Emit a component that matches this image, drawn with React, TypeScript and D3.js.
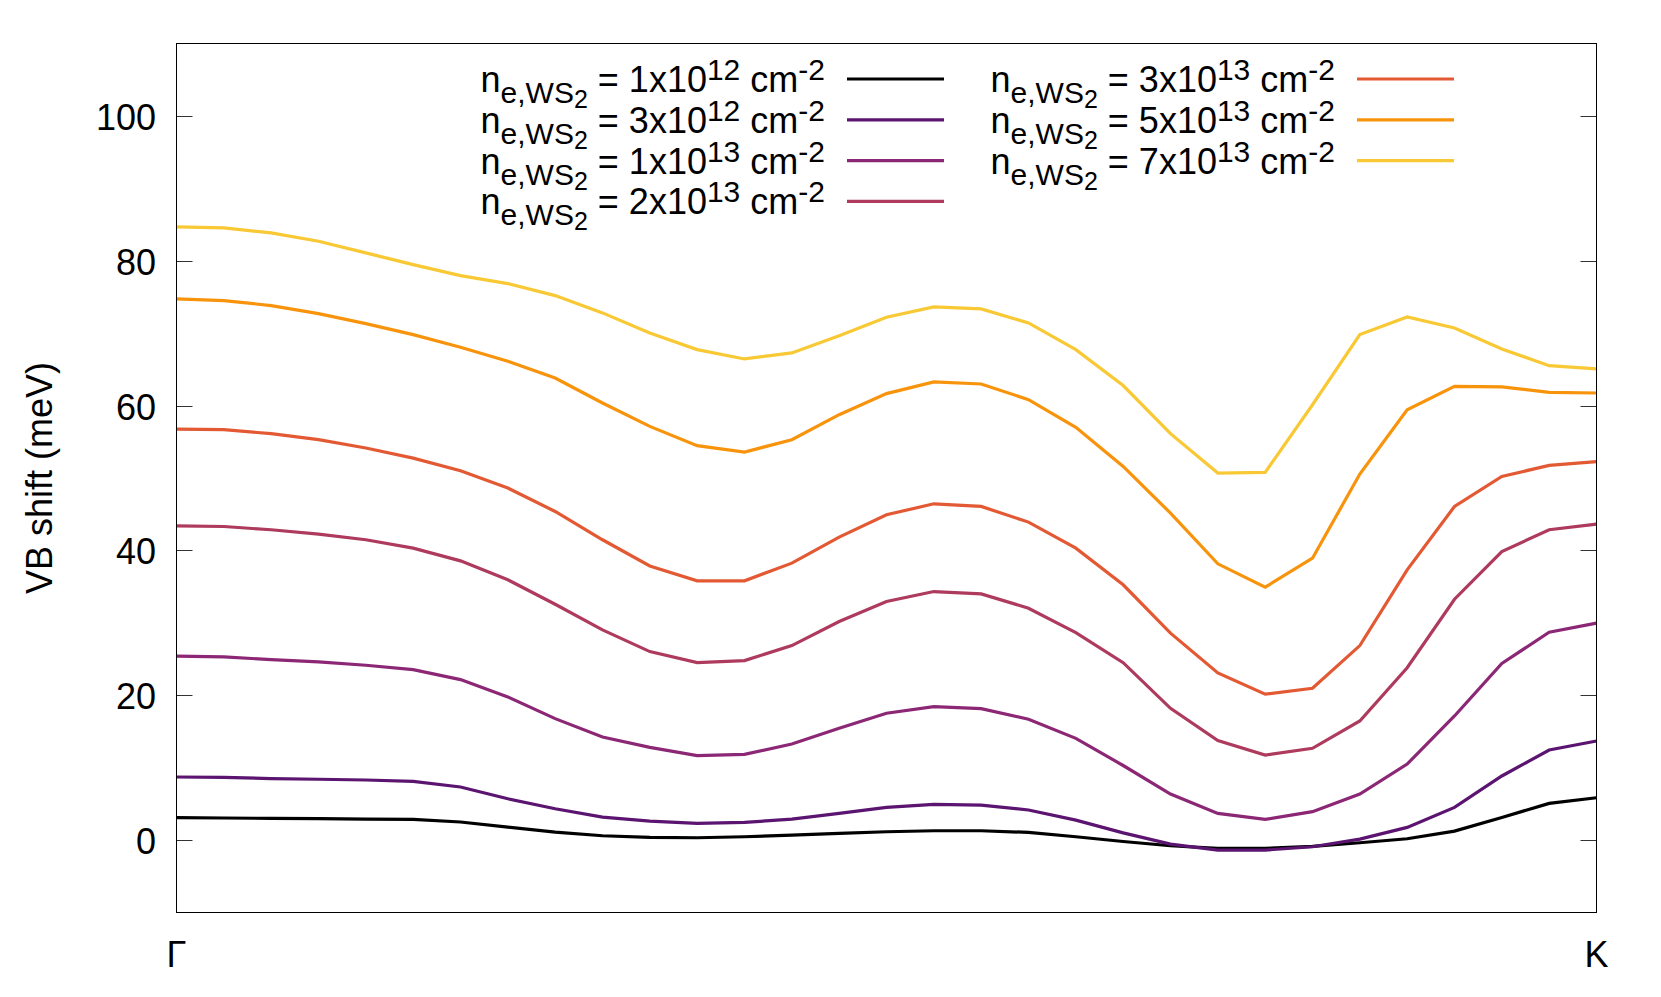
import * as d3 from 'd3';

const width = 1661;
const height = 997;

// k-path sample index Gamma (0) -> K (30)
const kIndex = d3.range(31);

// VB shift (meV) for each electron density
const vb1e12 = [3.09, 3.05, 3.0, 2.95, 2.9, 2.85, 2.5, 1.8, 1.1, 0.6, 0.37, 0.32, 0.46, 0.69, 0.92, 1.15, 1.29, 1.29, 1.06, 0.46, -0.2, -0.78, -1.15, -1.15, -0.87, -0.37, 0.18, 1.24, 3.13, 5.07, 5.85];
const vb3e12 = [8.71, 8.65, 8.5, 8.4, 8.3, 8.1, 7.33, 5.71, 4.33, 3.18, 2.63, 2.3, 2.44, 2.9, 3.69, 4.52, 4.93, 4.84, 4.15, 2.76, 1.0, -0.55, -1.38, -1.38, -0.92, 0.14, 1.75, 4.52, 8.85, 12.44, 13.68];
const vb1e13 = [25.39, 25.3, 24.92, 24.6, 24.14, 23.54, 22.16, 19.77, 16.77, 14.24, 12.8, 11.66, 11.84, 13.27, 15.43, 17.51, 18.43, 18.15, 16.68, 14.05, 10.3, 6.36, 3.69, 2.86, 3.92, 6.36, 10.5, 17.14, 24.4, 28.7, 29.95];
const vb2e13 = [43.4, 43.3, 42.85, 42.25, 41.47, 40.31, 38.56, 35.94, 32.57, 29.03, 26.03, 24.51, 24.79, 26.86, 30.18, 32.94, 34.32, 34.0, 32.02, 28.66, 24.5, 18.2, 13.73, 11.75, 12.67, 16.45, 23.8, 33.26, 39.85, 42.85, 43.63];
const vb3e13 = [56.76, 56.67, 56.12, 55.29, 54.14, 52.75, 51.0, 48.61, 45.38, 41.47, 37.85, 35.8, 35.8, 38.24, 41.83, 44.92, 46.44, 46.07, 43.91, 40.31, 35.25, 28.57, 23.08, 20.15, 20.96, 26.86, 37.32, 46.07, 50.22, 51.74, 52.25];
const vb5e13 = [74.73, 74.5, 73.81, 72.7, 71.32, 69.8, 68.05, 66.11, 63.81, 60.36, 57.13, 54.46, 53.58, 55.29, 58.74, 61.65, 63.26, 62.98, 60.82, 56.99, 51.6, 45.15, 38.15, 34.92, 38.93, 50.54, 59.43, 62.66, 62.57, 61.83, 61.74];
const vb7e13 = [84.68, 84.54, 83.85, 82.7, 81.09, 79.47, 77.95, 76.85, 75.19, 72.8, 70.03, 67.73, 66.44, 67.27, 69.66, 72.2, 73.62, 73.35, 71.41, 67.73, 62.77, 56.12, 50.68, 50.77, 60.12, 69.8, 72.24, 70.72, 67.82, 65.51, 65.06];

const mantissas = ['1', '3', '1', '2', '3', '5', '7'];
const exponents = ['12', '12', '13', '13', '13', '13', '13'];
const colours = ['#000000', '#5b1470', '#8c2775', '#ae3a5e', '#e35933', '#f8930c', '#f8c934'];
const seriesList = [vb1e12, vb3e12, vb1e13, vb2e13, vb3e13, vb5e13, vb7e13];

const yTicks = [0, 20, 40, 60, 80, 100];
const xTickLabels = ['Γ', 'K'];

const left = 176.5;
const right = 1596.5;
const top = 43.5;
const bottom = 912.5;

const App = () => {
  const xScale = d3.scaleLinear().domain([0, 30]).range([left, right]);
  const yScale = d3.scaleLinear().domain([-10, 110]).range([bottom, top]);

  const valueline = d3
    .line<number>()
    .x((d, i) => xScale(kIndex[i]))
    .y((d) => yScale(d));

  // legend: 4 rows in first column, 3 in the second
  const legendItem = (i: number) => {
    const col = i < 4 ? 0 : 1;
    const row = i < 4 ? i : i - 4;
    const lineY = 79 + row * 40.8;
    const textEnd = col === 0 ? 825 : 1335;
    const sampleX = col === 0 ? 847 : 1357;
    return (
      <g key={i}>
        <text
          x={textEnd}
          y={lineY + 13}
          textAnchor="end"
          fontSize={36}
          fill="#000"
        >
          n
          <tspan fontSize={30} dy={11}>e,WS</tspan>
          <tspan fontSize={25} dy={5}>2</tspan>
          <tspan fontSize={36} dy={-16}>{` = ${mantissas[i]}x10`}</tspan>
          <tspan fontSize={30} dy={-12}>{exponents[i]}</tspan>
          <tspan fontSize={36} dy={12}>{' cm'}</tspan>
          <tspan fontSize={30} dy={-12}>-2</tspan>
        </text>
        <line
          x1={sampleX}
          x2={sampleX + 97}
          y1={lineY}
          y2={lineY}
          stroke={colours[i]}
          strokeWidth={3.2}
        />
      </g>
    );
  };

  return (
    <svg
      width={width}
      height={height}
      viewBox={`0 0 ${width} ${height}`}
      style={{ position: 'absolute', left: 0, top: 0, background: '#fff' }}
      fontFamily="'Liberation Sans', Arial, sans-serif"
    >
      <rect x={0} y={0} width={width} height={height} fill="#fff" />

      {/* ticks, drawn inward on both sides */}
      {yTicks.map((t) => {
        const y = Math.round(yScale(t)) + 0.5;
        return (
          <g key={t}>
            <line x1={left} x2={left + 16} y1={y} y2={y} stroke="#333" strokeWidth={1} />
            <line x1={right - 16} x2={right} y1={y} y2={y} stroke="#333" strokeWidth={1} />
            <text x={156} y={y + 13} textAnchor="end" fontSize={36} fill="#000">
              {t}
            </text>
          </g>
        );
      })}

      <text x={xScale(0)} y={967} textAnchor="middle" fontSize={36} fill="#000">
        {xTickLabels[0]}
      </text>
      <text x={xScale(30)} y={967} textAnchor="middle" fontSize={36} fill="#000">
        {xTickLabels[1]}
      </text>

      <text
        transform={`translate(52, ${(top + bottom) / 2}) rotate(-90)`}
        textAnchor="middle"
        fontSize={36}
        fill="#000"
      >
        VB shift (meV)
      </text>

      <g id="lines">
        {seriesList.map((s, i) => (
          <path
            key={i}
            d={valueline(s) || ''}
            fill="none"
            stroke={colours[i]}
            strokeWidth={3.2}
            strokeLinejoin="miter"
          />
        ))}
      </g>

      <g id="legend">{mantissas.map((m, i) => legendItem(i))}</g>

      <rect
        x={left}
        y={top}
        width={right - left}
        height={bottom - top}
        fill="none"
        stroke="#000"
        strokeWidth={1}
      />
    </svg>
  );
};

export default App;
